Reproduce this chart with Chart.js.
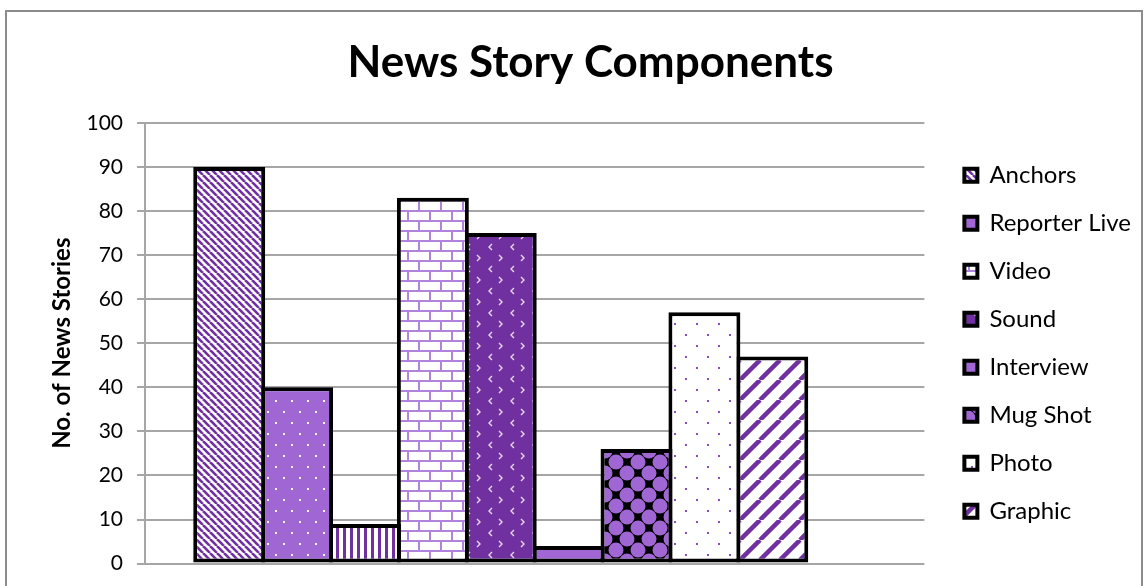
<!DOCTYPE html>
<html>
<head>
<meta charset="utf-8">
<title>News Story Components</title>
<script src="https://cdn.jsdelivr.net/npm/chart.js@4.4.1/dist/chart.umd.min.js"></script>
<style>
  body { margin: 0; background: #fff; overflow: hidden; }
  #wrap { position: relative; width: 1146px; height: 586px; }
  #frame { position: absolute; left: 5px; top: 10px; width: 1134px; height: 600px; border: 2px solid #8c8c8c; }
  #chart { position: absolute; left: 0; top: 0; }
</style>
</head>
<body>
<div id="wrap">
  <div id="frame"></div>
  <canvas id="chart" width="1146" height="586"></canvas>
</div>
<script>
const categories = [""];
const seriesNames = ["Anchors", "Reporter Live", "", "Video", "Sound", "Interview", "Mug Shot", "Photo", "Graphic"];
const seriesValues = [90, 40, 9, 83, 75, 4, 26, 57, 47];
const yTicks = [0, 10, 20, 30, 40, 50, 60, 70, 80, 90, 100];

const PURPLE = "#7030a0";
const MID = "#a066d3";
const LAV = "#b084dc";

function makePattern(w, h, draw) {
  const c = document.createElement("canvas");
  c.width = w;
  c.height = h;
  const g = c.getContext("2d");
  draw(g, w, h);
  return document.getElementById("chart").getContext("2d").createPattern(c, "repeat");
}

function diag(g, w, h, color, lw, back) {
  g.strokeStyle = color;
  g.lineWidth = lw;
  for (let k = -1; k <= 1; k++) {
    g.beginPath();
    if (back) {
      g.moveTo(k * w, 0);
      g.lineTo(k * w + w, h);
    } else {
      g.moveTo(k * w, h);
      g.lineTo(k * w + w, 0);
    }
    g.stroke();
  }
}

const patterns = [
  // Anchors - fine backward diagonal
  makePattern(7, 7, (g, w, h) => {
    g.fillStyle = "#fff"; g.fillRect(0, 0, w, h);
    diag(g, w, h, PURPLE, 2.6, true);
  }),
  // Reporter Live - purple with white dots
  makePattern(16, 22, (g) => {
    g.fillStyle = MID; g.fillRect(0, 0, 16, 22);
    g.fillStyle = "#fff";
    g.fillRect(3, 4, 2, 2);
    g.fillRect(11, 15, 2, 2);
  }),
  // unlabeled - vertical stripes
  makePattern(7, 4, (g) => {
    g.fillStyle = "#fff"; g.fillRect(0, 0, 7, 4);
    g.fillStyle = PURPLE; g.fillRect(0, 0, 3, 4);
  }),
  // Video - bricks
  makePattern(22, 20, (g) => {
    g.fillStyle = "#fff"; g.fillRect(0, 0, 22, 20);
    g.fillStyle = LAV;
    g.fillRect(0, 0, 22, 2);
    g.fillRect(0, 10, 22, 2);
    g.fillRect(0, 0, 2, 10);
    g.fillRect(11, 10, 2, 10);
  }),
  // Sound - dark purple with small chevrons
  makePattern(22, 22, (g) => {
    g.fillStyle = PURPLE; g.fillRect(0, 0, 22, 22);
    g.strokeStyle = "#e6d8f2"; g.lineWidth = 1.4;
    g.beginPath(); g.moveTo(8, 2); g.lineTo(5, 5); g.lineTo(8, 8); g.stroke();
    g.beginPath(); g.moveTo(15, 13); g.lineTo(18, 16); g.lineTo(15, 19); g.stroke();
  }),
  // Interview - solid
  MID,
  // Mug Shot - purple blobs on black diamonds
  makePattern(22, 22, (g) => {
    g.fillStyle = "#000"; g.fillRect(0, 0, 22, 22);
    g.fillStyle = MID;
    [[0, 0], [22, 0], [0, 22], [22, 22], [11, 11]].forEach(([x, y]) => {
      g.beginPath(); g.arc(x, y, 7.5, 0, Math.PI * 2); g.fill();
    });
  }),
  // Photo - white with purple dots
  makePattern(22, 22, (g) => {
    g.fillStyle = "#fff"; g.fillRect(0, 0, 22, 22);
    g.fillStyle = "#8a4cc0";
    g.fillRect(3, 4, 2, 2);
    g.fillRect(14, 15, 2, 2);
  }),
  // Graphic - wide forward diagonal
  makePattern(20, 20, (g, w, h) => {
    g.fillStyle = "#fff"; g.fillRect(0, 0, w, h);
    diag(g, w, h, PURPLE, 4.5, false);
  }),
];

const datasets = seriesNames.map((name, i) => ({
  label: name,
  data: [seriesValues[i]],
  backgroundColor: patterns[i],
  borderColor: "#000",
  borderWidth: 4,
  borderSkipped: false,
}));
// empty slot that Excel leaves on the right of the group
datasets.push({ label: "", data: [null], backgroundColor: "#fff", borderWidth: 0 });

Chart.defaults.font.family = "Lato, 'Open Sans', sans-serif";
Chart.defaults.color = "#000";

new Chart(document.getElementById("chart"), {
  type: "bar",
  data: { labels: categories, datasets: datasets },
  options: {
    responsive: false,
    animation: false,
    categoryPercentage: 0.871,
    barPercentage: 1.06,
    layout: { padding: { left: 40, top: 15, right: 5, bottom: 5 } },
    plugins: {
      title: {
        display: true,
        text: "News Story Components",
        font: { size: 44, weight: "bold" },
        color: "#000",
        padding: { top: 21, bottom: 34 },
      },
      legend: {
        position: "right",
        fullSize: false,
        maxWidth: 300,
        labels: {
          font: { size: 24 },
          color: "#000",
          boxWidth: 13,
          boxHeight: 13,
          padding: 24,
          filter: (item) => item.text !== "",
        },
      },
      tooltip: { enabled: false },
    },
    scales: {
      x: { display: false },
      y: {
        min: 0,
        max: 100,
        afterBuildTicks: (scale) => { scale.ticks = yTicks.map((v) => ({ value: v })); },
        afterFit: (scale) => { scale.width = 105; },
        ticks: { font: { size: 21, lineHeight: 0.8 }, color: "#000", padding: 14 },
        grid: { color: "#a6a6a6", lineWidth: 2, tickLength: 8 },
        border: { color: "#a6a6a6", width: 2 },
        title: {
          display: true,
          text: "No. of News Stories",
          font: { size: 24, weight: "bold" },
          color: "#000",
          padding: { top: 8, bottom: 0 },
        },
      },
      gap: {
        position: "right",
        display: true,
        afterFit: (scale) => { scale.width = 16; },
        ticks: { display: false },
        grid: { display: false },
        border: { display: false },
      },
    },
  },
});
</script>
</body>
</html>
